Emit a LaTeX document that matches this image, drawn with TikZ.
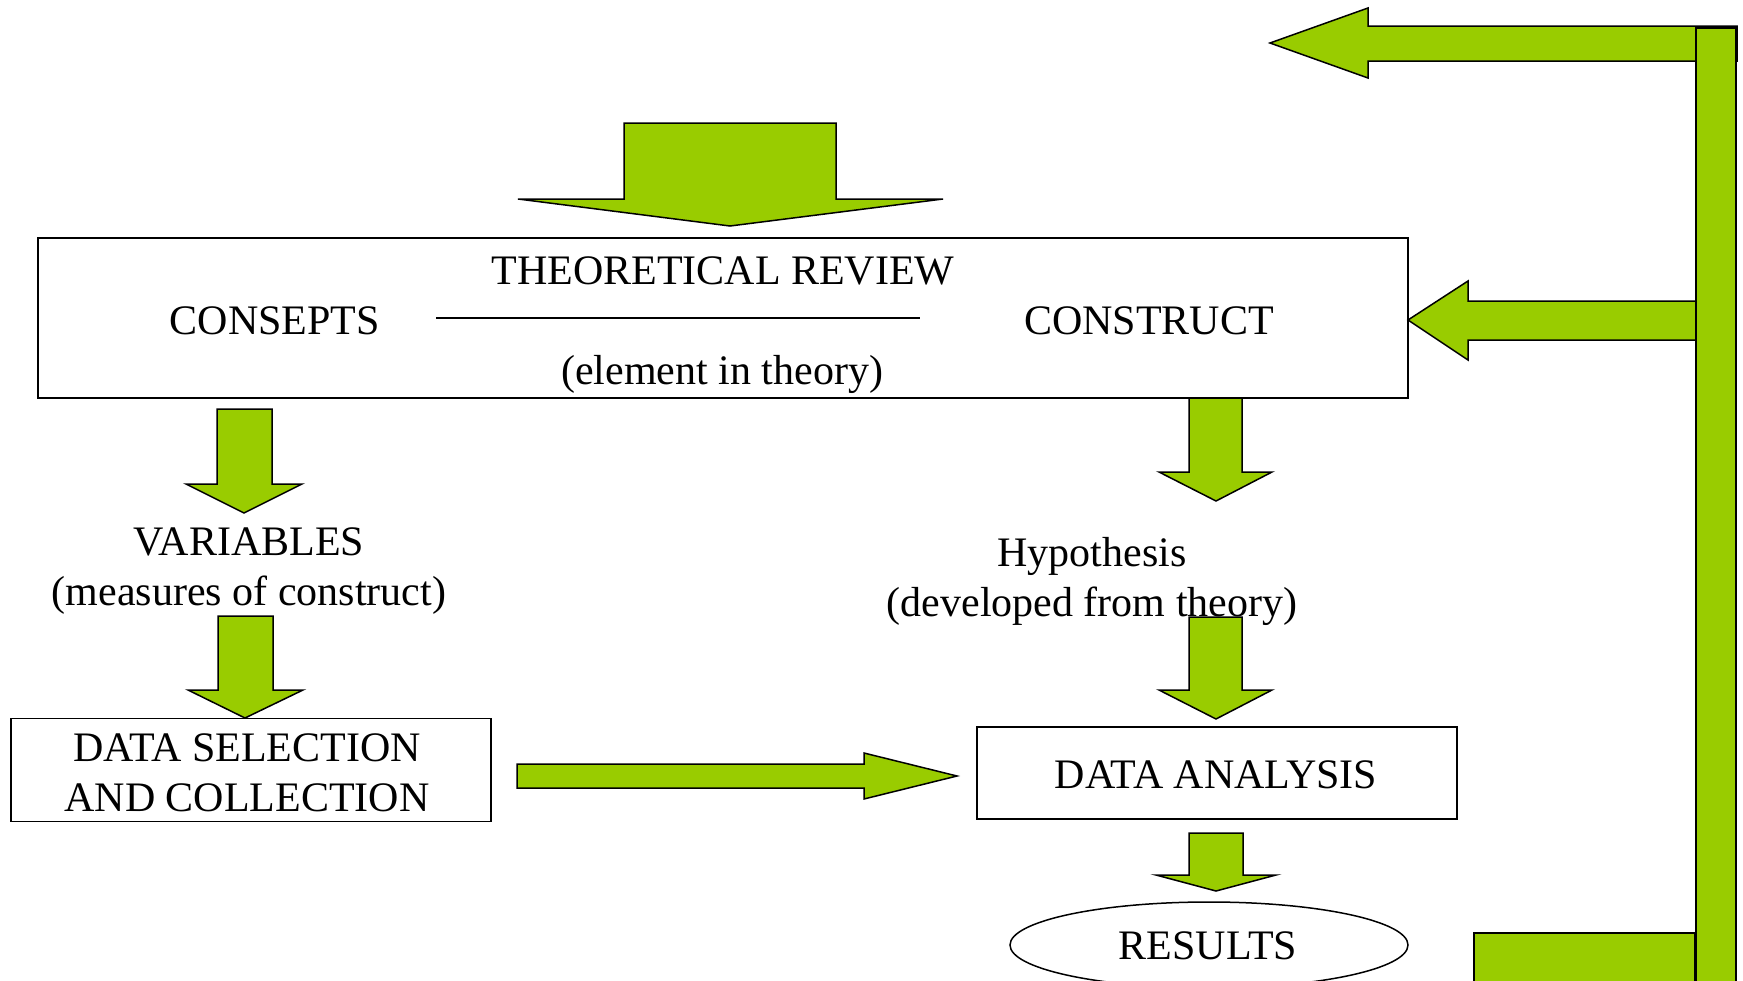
\documentclass[tikz,border=0pt]{standalone}
\usepackage{fontspec}
\setmainfont{Liberation Serif}
\usetikzlibrary{shapes.geometric}
\definecolor{leafgreen}{RGB}{153,204,0}

\begin{document}
\begin{tikzpicture}
[x=1pt, y=-1pt,
every node/.style = {align=center, inner sep=0pt, font=\fontsize{42}{50}\selectfont}]
\tikzstyle{box} = [rectangle, draw=black, line width=1.5pt]
\tikzstyle{oval} = [ellipse, draw=black, line width=1.5pt]
\tikzstyle{fat} = [draw=black, fill=leafgreen, line width=1.5pt, line join=miter]

\useasboundingbox (0,0) rectangle (1743,980);
\clip (0,0) rectangle (1743,980);

% theoretical review
\node[box, minimum width=1370pt, minimum height=160pt] (review) at (723,318) {};
\node[anchor=base] (title) at (723,284) {THEORETICAL REVIEW};
\node[anchor=base] (consepts) at (275,334) {CONSEPTS};
\node[anchor=base] (construct) at (1149,334) {CONSTRUCT};
\node[anchor=base] (element) at (722,384) {(element in theory)};
\draw[line width=1.2pt] (436,318) -- (920,318);

% left and right columns
\node (variables) at (249,571) {VARIABLES\\(measures of construct)};
\node (hypothesis) at (1092,581) {Hypothesis\\(developed from theory)};
\node[box, minimum width=480pt, minimum height=103pt] (selection) at (251,770) {};
\node (selectiontext) at (247,773) {DATA SELECTION\\AND COLLECTION};
\node[box, minimum width=480pt, minimum height=92pt] (analysis) at (1217,773) {};
\node (analysistext) at (1216,775) {DATA ANALYSIS};
\node[oval, minimum width=398pt, minimum height=86pt] (results) at (1209,945) {};
\node (resultstext) at (1208,946) {RESULTS};

% block arrows
\draw[fat] (624,123) -- (836,123) -- (836,199) -- (943,199) -- (730,226) -- (518,199) -- (624,199) -- cycle;
\draw[fat] (217,409) -- (272,409) -- (272,484) -- (302,484) -- (244,513) -- (186,484) -- (217,484) -- cycle;
\draw[fat] (218,616) -- (273,616) -- (273,690) -- (303,690) -- (245,718) -- (188,690) -- (218,690) -- cycle;
\draw[fat] (1189,398) -- (1242,398) -- (1242,472) -- (1272,472) -- (1216,501) -- (1159,472) -- (1189,472) -- cycle;
\draw[fat] (1189,617) -- (1242,617) -- (1242,690) -- (1272,690) -- (1216,719) -- (1159,690) -- (1189,690) -- cycle;
\draw[fat] (1189,833) -- (1243,833) -- (1243,875) -- (1276,875) -- (1216,891) -- (1156,875) -- (1189,875) -- cycle;
\draw[fat] (517,764) -- (864,764) -- (864,753) -- (957,776) -- (864,799) -- (864,788) -- (517,788) -- cycle;

% feedback loop
\draw[fat] (1737,26) -- (1368,26) -- (1368,8) -- (1270,43) -- (1368,78) -- (1368,61) -- (1737,61) -- cycle;
\draw[fat] (1696,301) -- (1468,301) -- (1468,281) -- (1408,320) -- (1468,360) -- (1468,340) -- (1696,340) -- cycle;
\draw[fat] (1474,933) rectangle (1695,990);
\draw[fat] (1696,28) rectangle (1736,990);

\end{tikzpicture}
\end{document}
